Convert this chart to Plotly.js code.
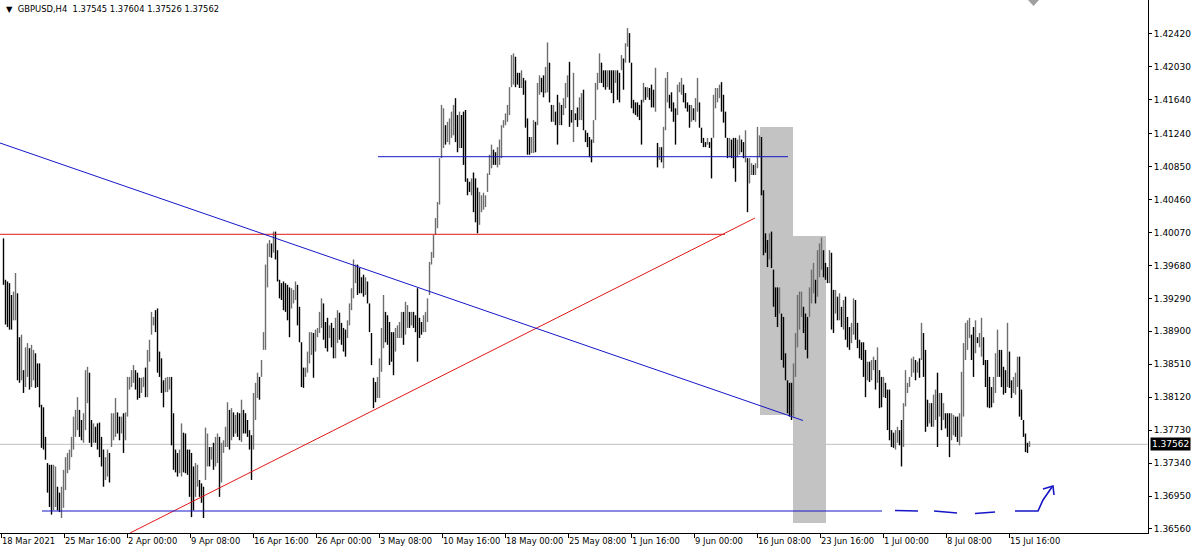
<!DOCTYPE html>
<html><head><meta charset="utf-8">
<script src="https://cdn.plot.ly/plotly-3.0.1.min.js"></script>
<style>html,body{margin:0;padding:0;background:#fff;}#chart{width:1200px;height:554px;}</style>
</head><body><div id="chart"></div>
<script>
// GBPUSD H4 bars (high / low)
const high = [
1.4000,1.3951,1.3949,1.3947,1.3933,1.3937,1.3959,1.3935,1.3883,1.3886,
1.3844,1.3871,1.3876,1.3870,1.3874,1.3868,1.3864,1.3852,1.3852,1.3803,
1.3800,1.3765,1.3734,1.3732,1.3732,1.3732,1.3730,1.3706,1.3699,1.3706,
1.3726,1.3741,1.3746,1.3750,1.3765,1.3789,1.3797,1.3812,1.3797,1.3785,
1.3793,1.3844,1.3848,1.3841,1.3785,1.3781,1.3777,1.3781,1.3782,1.3765,
1.3750,1.3741,1.3750,1.3746,1.3793,1.3793,1.3811,1.3794,1.3789,1.3789,
1.3793,1.3794,1.3836,1.3836,1.3844,1.3850,1.3844,1.3841,1.3835,1.3835,
1.3836,1.3847,1.3868,1.3880,1.3913,1.3907,1.3915,1.3917,1.3866,1.3858,
1.3832,1.3835,1.3836,1.3836,1.3836,1.3793,1.3750,1.3746,1.3750,1.3781,
1.3770,1.3769,1.3750,1.3750,1.3746,1.3730,1.3734,1.3732,1.3714,1.3710,
1.3706,1.3776,1.3769,1.3753,1.3753,1.3758,1.3765,1.3769,1.3765,1.3758,
1.3761,1.3777,1.3806,1.3797,1.3799,1.3794,1.3791,1.3794,1.3793,1.3809,
1.3797,1.3793,1.3785,1.3773,1.3767,1.3817,1.3829,1.3841,1.3836,1.3856,
1.3889,1.3969,1.3994,1.3998,1.3994,1.4008,1.4008,1.3986,1.3951,1.3947,
1.3949,1.3947,1.3945,1.3942,1.3941,1.3939,1.3949,1.3945,1.3919,1.3877,
1.3847,1.3847,1.3866,1.3889,1.3889,1.3888,1.3892,1.3894,1.3913,1.3929,
1.3923,1.3901,1.3906,1.3897,1.3900,1.3894,1.3906,1.3915,1.3912,1.3900,
1.3894,1.3892,1.3903,1.3923,1.3941,1.3975,1.3969,1.3969,1.3965,1.3954,
1.3957,1.3954,1.3949,1.3923,1.3888,1.3835,1.3830,1.3836,1.3858,1.3894,
1.3933,1.3913,1.3909,1.3901,1.3889,1.3889,1.3894,1.3897,1.3901,1.3913,
1.3913,1.3925,1.3921,1.3913,1.3913,1.3913,1.3909,1.3941,1.3906,1.3901,
1.3909,1.3913,1.3929,1.3972,1.3984,1.4004,1.4024,1.4043,1.4095,1.4158,
1.4154,1.4134,1.4138,1.4142,1.4150,1.4158,1.4166,1.4146,1.4150,1.4146,
1.4150,1.4152,1.4071,1.4067,1.4071,1.4078,1.4071,1.4060,1.4055,1.4051,
1.4054,1.4051,1.4077,1.4099,1.4111,1.4105,1.4102,1.4108,1.4117,1.4134,
1.4140,1.4148,1.4158,1.4179,1.4217,1.4219,1.4215,1.4196,1.4196,1.4199,
1.4190,1.4187,1.4142,1.4120,1.4120,1.4140,1.4138,1.4184,1.4193,1.4190,
1.4193,1.4203,1.4232,1.4208,1.4158,1.4158,1.4150,1.4170,1.4161,1.4158,
1.4166,1.4184,1.4193,1.4209,1.4152,1.4196,1.4148,1.4155,1.4167,1.4172,
1.4176,1.4128,1.4125,1.4120,1.4117,1.4140,1.4184,1.4196,1.4219,1.4208,
1.4199,1.4199,1.4199,1.4199,1.4199,1.4199,1.4199,1.4199,1.4196,1.4217,
1.4213,1.4231,1.4249,1.4243,1.4208,1.4164,1.4161,1.4161,1.4158,1.4164,
1.4184,1.4179,1.4179,1.4178,1.4182,1.4176,1.4202,1.4113,1.4108,1.4108,
1.4132,1.4190,1.4197,1.4170,1.4173,1.4161,1.4154,1.4182,1.4185,1.4190,
1.4182,1.4172,1.4161,1.4158,1.4158,1.4154,1.4166,1.4190,1.4161,1.4131,
1.4119,1.4114,1.4119,1.4114,1.4119,1.4170,1.4178,1.4178,1.4182,1.4185,
1.4170,1.4150,1.4119,1.4119,1.4117,1.4119,1.4119,1.4117,1.4122,1.4117,
1.4114,1.4128,1.4095,1.4095,1.4089,1.4087,1.4089,1.4132,1.4122,1.4120,
1.4057,1.4006,1.3998,1.4006,1.4008,1.3963,1.3942,1.3942,1.3942,1.3911,
1.3907,1.3864,1.3832,1.3829,1.3829,1.3852,1.3888,1.3933,1.3937,1.3937,
1.3919,1.3911,1.3907,1.3942,1.3963,1.3971,1.3951,1.3986,1.3994,1.4001,
1.3986,1.3971,1.3966,1.3986,1.3983,1.3939,1.3939,1.3931,1.3935,1.3919,
1.3927,1.3931,1.3907,1.3895,1.3900,1.3929,1.3927,1.3900,1.3880,1.3877,
1.3877,1.3868,1.3854,1.3854,1.3856,1.3860,1.3856,1.3871,1.3844,1.3836,
1.3836,1.3829,1.3821,1.3821,1.3773,1.3770,1.3773,1.3777,1.3773,1.3785,
1.3805,1.3844,1.3829,1.3836,1.3858,1.3860,1.3856,1.3854,1.3858,1.3900,
1.3888,1.3868,1.3809,1.3805,1.3805,1.3815,1.3821,1.3841,1.3817,1.3817,
1.3805,1.3793,1.3793,1.3793,1.3793,1.3791,1.3789,1.3789,1.3793,1.3842,
1.3876,1.3900,1.3903,1.3906,1.3886,1.3895,1.3903,1.3883,1.3888,1.3906,
1.3883,1.3856,1.3856,1.3836,1.3824,1.3836,1.3864,1.3892,1.3868,1.3868,
1.3848,1.3844,1.3900,1.3866,1.3832,1.3836,1.3841,1.3860,1.3860,1.3821,
1.3785,1.3769,1.3758,1.3760
];
const low = [
1.3945,1.3898,1.3895,1.3892,1.3892,1.3903,1.3903,1.3832,1.3829,1.3832,
1.3817,1.3824,1.3836,1.3821,1.3824,1.3832,1.3823,1.3824,1.3800,1.3752,
1.3750,1.3738,1.3699,1.3682,1.3673,1.3678,1.3682,1.3678,1.3676,1.3669,
1.3681,1.3702,1.3722,1.3726,1.3741,1.3750,1.3765,1.3773,1.3765,1.3761,
1.3758,1.3773,1.3805,1.3758,1.3753,1.3758,1.3758,1.3750,1.3741,1.3730,
1.3706,1.3714,1.3718,1.3711,1.3753,1.3761,1.3765,1.3769,1.3761,1.3769,
1.3746,1.3761,1.3789,1.3821,1.3824,1.3829,1.3821,1.3809,1.3811,1.3817,
1.3824,1.3812,1.3812,1.3854,1.3886,1.3897,1.3889,1.3841,1.3836,1.3817,
1.3800,1.3818,1.3818,1.3821,1.3755,1.3726,1.3723,1.3718,1.3722,1.3718,
1.3723,1.3722,1.3720,1.3694,1.3670,1.3678,1.3694,1.3706,1.3694,1.3687,
1.3669,1.3714,1.3730,1.3730,1.3738,1.3726,1.3730,1.3734,1.3694,1.3711,
1.3746,1.3753,1.3753,1.3750,1.3761,1.3765,1.3769,1.3765,1.3761,1.3759,
1.3769,1.3769,1.3765,1.3750,1.3714,1.3750,1.3785,1.3811,1.3809,1.3836,
1.3868,1.3868,1.3942,1.3978,1.3977,1.3983,1.3975,1.3949,1.3929,1.3927,
1.3915,1.3913,1.3903,1.3883,1.3917,1.3923,1.3927,1.3897,1.3877,1.3824,
1.3823,1.3836,1.3841,1.3852,1.3862,1.3835,1.3866,1.3883,1.3888,1.3894,
1.3880,1.3870,1.3866,1.3882,1.3871,1.3858,1.3858,1.3876,1.3880,1.3874,
1.3866,1.3860,1.3882,1.3897,1.3915,1.3929,1.3947,1.3933,1.3935,1.3935,
1.3931,1.3933,1.3923,1.3889,1.3850,1.3799,1.3806,1.3811,1.3811,1.3842,
1.3870,1.3877,1.3874,1.3850,1.3854,1.3838,1.3866,1.3882,1.3882,1.3882,
1.3874,1.3886,1.3894,1.3894,1.3897,1.3894,1.3889,1.3854,1.3882,1.3886,
1.3889,1.3889,1.3901,1.3933,1.3969,1.3977,1.4004,1.4012,1.4040,1.4095,
1.4107,1.4111,1.4114,1.4111,1.4119,1.4122,1.4114,1.4102,1.4107,1.4107,
1.4087,1.4067,1.4051,1.4055,1.4051,1.4031,1.4019,1.4006,1.4016,1.4031,
1.4034,1.4037,1.4055,1.4075,1.4083,1.4087,1.4087,1.4084,1.4087,1.4095,
1.4131,1.4134,1.4138,1.4146,1.4179,1.4182,1.4179,1.4182,1.4178,1.4178,
1.4170,1.4131,1.4099,1.4099,1.4101,1.4101,1.4102,1.4134,1.4170,1.4173,
1.4167,1.4172,1.4173,1.4161,1.4138,1.4138,1.4134,1.4111,1.4134,1.4134,
1.4146,1.4154,1.4167,1.4132,1.4137,1.4114,1.4140,1.4132,1.4140,1.4140,
1.4128,1.4114,1.4108,1.4096,1.4090,1.4113,1.4140,1.4176,1.4184,1.4184,
1.4179,1.4176,1.4179,1.4176,1.4172,1.4160,1.4184,1.4164,1.4161,1.4199,
1.4176,1.4208,1.4227,1.4208,1.4154,1.4148,1.4146,1.4144,1.4140,1.4111,
1.4161,1.4164,1.4167,1.4164,1.4155,1.4155,1.4150,1.4084,1.4093,1.4090,
1.4083,1.4128,1.4161,1.4154,1.4150,1.4138,1.4111,1.4146,1.4173,1.4170,
1.4161,1.4154,1.4150,1.4131,1.4138,1.4140,1.4138,1.4150,1.4131,1.4113,
1.4108,1.4108,1.4111,1.4107,1.4071,1.4119,1.4154,1.4161,1.4166,1.4150,
1.4137,1.4119,1.4095,1.4096,1.4095,1.4083,1.4067,1.4096,1.4099,1.4102,
1.4095,1.4090,1.4031,1.4065,1.4075,1.4075,1.4075,1.4083,1.4096,1.4051,
1.3980,1.3983,1.3966,1.3975,1.3965,1.3919,1.3907,1.3895,1.3911,1.3856,
1.3847,1.3832,1.3793,1.3789,1.3785,1.3789,1.3836,1.3871,1.3892,1.3907,
1.3888,1.3868,1.3858,1.3907,1.3923,1.3935,1.3923,1.3931,1.3954,1.3963,
1.3954,1.3951,1.3947,1.3947,1.3892,1.3888,1.3911,1.3903,1.3903,1.3895,
1.3892,1.3880,1.3871,1.3868,1.3876,1.3886,1.3880,1.3870,1.3858,1.3856,
1.3836,1.3812,1.3832,1.3830,1.3832,1.3844,1.3821,1.3829,1.3799,1.3800,
1.3812,1.3811,1.3773,1.3761,1.3753,1.3752,1.3750,1.3758,1.3755,1.3730,
1.3753,1.3801,1.3817,1.3824,1.3836,1.3841,1.3832,1.3841,1.3835,1.3856,
1.3836,1.3771,1.3777,1.3781,1.3777,1.3777,1.3785,1.3753,1.3789,1.3773,
1.3785,1.3775,1.3765,1.3741,1.3761,1.3767,1.3765,1.3759,1.3755,1.3765,
1.3789,1.3856,1.3868,1.3882,1.3856,1.3836,1.3864,1.3876,1.3871,1.3860,
1.3850,1.3824,1.3800,1.3799,1.3800,1.3805,1.3817,1.3836,1.3836,1.3824,
1.3815,1.3817,1.3824,1.3823,1.3811,1.3817,1.3815,1.3824,1.3789,1.3785,
1.3765,1.3747,1.3746,1.3753
];
// bar direction: u = close above open, d = close below open
const direction = (
"ddddduuddu duuduudddd ddddduuddu uuuuuuuudd uuuddud " +
"dddduuduuu dduduuuuud dduuduuuud dddduuuddd duuddd " +
"ddduuddduu duduuduuuu dudu dd u ddd dd uuu d uuuu u d u ddddd " +
"ddd uuu dddd uuuu d uuuu d dd u dd uu ddd d uuuuu dddd u ddddd u " +
"uuu ddddd uu uu d uu d u ddd dd uuuuuuuu uuu d uuuu dd u ddddd u " +
"ddd uuuuuuu dd uuuuuuuu u ddd u dddd u u d uu dd uu dd u dd u d uuu " +
"dd u dd uu ddd dd uuuu ddd u ddd u dd u d uu ddddddd u d u ddd u d u d u " +
"uu dddd uuu d ddd u d uu ddd d u dd uuuu dd dd u ddd uu dd u d uu d u " +
"uu dddd u ddd d u dddddd uu uuu ddd uuu d uuu ddd u dd u d u d u ddd u " +
"u dddddd u d u u d u dd u dddd d uu dd uuuuu u d u d u ddd u d uu d u d u dd " +
"d uu dd uuuuu u dd u d uu ddd dd uuu dddd u dd uuu ddddd u").replace(/\s+/g, "");

const dateLabels = ["18 Mar 2021","25 Mar 16:00","2 Apr 00:00","9 Apr 08:00","16 Apr 16:00",
  "26 Apr 00:00","3 May 08:00","10 May 16:00","18 May 00:00","25 May 08:00","1 Jun 16:00",
  "9 Jun 00:00","16 Jun 08:00","23 Jun 16:00","1 Jul 00:00","8 Jul 08:00","15 Jul 16:00"];
const priceTicks = [1.36560,1.36950,1.37340,1.37730,1.38120,1.38510,1.38900,1.39290,
  1.39680,1.40070,1.40460,1.40850,1.41240,1.41640,1.42030,1.42420];
const lastPrice = 1.37562;
const header = "GBPUSD,H4\u00a0\u00a01.37545 1.37604 1.37526 1.37562";

// ---------- layout geometry ----------
const W = 1200, H = 554, mR = 52, mB = 21;
const plotW = W - mR, plotH = H - mB;
const xRange = [-1.75, -1.75 + plotW / 2];           // 2 px per bar
const yTop = 1.42822, pxPerPrice = 1 / 0.000118384;
const yRange = [yTop - plotH / pxPerPrice, yTop];
const X = px => xRange[0] + px / 2;                  // pixel -> bar index
const Y = py => yTop - py / pxPerPrice;              // pixel -> price
const PX = px => px / plotW, PY = py => 1 - py / plotH; // pixel -> paper

// ---------- bar traces ----------
const upX = [], upY = [], dnX = [], dnY = [];
for (let i = 0; i < high.length; i++) {
  const up = direction[i] === "u";
  (up ? upX : dnX).push(i, i, null);
  (up ? upY : dnY).push(low[i], high[i], null);
}
const barLine = (x, y, c) => ({type: "scatter", mode: "lines", x, y, hoverinfo: "skip",
  line: {color: c, width: 1.4}, connectgaps: false, showlegend: false});
const traces = [barLine(upX, upY, "#6e6e6e"), barLine(dnX, dnY, "#000000")];

const tickVals = dateLabels.map((_, k) => X(63 * k + 1));

const BLUE = "#1616c8", RED = "#e01818";
const shapes = [
  {type: "rect", layer: "below", xref: "x", yref: "y", x0: X(760), x1: X(793), y0: Y(127), y1: Y(415),
    fillcolor: "#c3c3c3", line: {width: 0}},
  {type: "rect", layer: "below", xref: "x", yref: "y", x0: X(793), x1: X(826), y0: Y(236), y1: Y(523),
    fillcolor: "#c3c3c3", line: {width: 0}},
  {type: "line", layer: "below", xref: "paper", yref: "y", x0: 0, x1: 1, y0: lastPrice, y1: lastPrice,
    line: {color: "#c0c0c0", width: 1}},
  {type: "line", xref: "x", yref: "y", x0: X(0), x1: X(725), y0: Y(234.3), y1: Y(234.3), line: {color: RED, width: 1}},
  {type: "line", xref: "x", yref: "y", x0: X(130), x1: X(755), y0: Y(533), y1: Y(218), line: {color: RED, width: 1}},
  {type: "line", xref: "x", yref: "y", x0: X(0), x1: X(803), y0: Y(143), y1: Y(420.5), line: {color: BLUE, width: 1}},
  {type: "line", xref: "x", yref: "y", x0: X(378), x1: X(788), y0: Y(156.7), y1: Y(156.7), line: {color: BLUE, width: 1}},
  {type: "line", xref: "x", yref: "y", x0: X(42), x1: X(882), y0: Y(511), y1: Y(511), line: {color: BLUE, width: 1}},
  {type: "path", xref: "paper", yref: "paper", line: {color: BLUE, width: 1.6},
    path: `M${PX(895)},${PY(510.5)} L${PX(918)},${PY(511)}`},
  {type: "path", xref: "paper", yref: "paper", line: {color: BLUE, width: 1.6},
    path: `M${PX(934)},${PY(511)} L${PX(957)},${PY(513)}`},
  {type: "path", xref: "paper", yref: "paper", line: {color: BLUE, width: 1.6},
    path: `M${PX(975)},${PY(513.5)} L${PX(995)},${PY(512)}`},
  {type: "path", xref: "paper", yref: "paper", line: {color: BLUE, width: 1.6},
    path: `M${PX(1015)},${PY(511)} L${PX(1038)},${PY(511)} L${PX(1043)},${PY(500)} L${PX(1052)},${PY(487)}`},
  {type: "path", xref: "paper", yref: "paper", line: {color: BLUE, width: 1.6},
    path: `M${PX(1043)},${PY(489)} L${PX(1053)},${PY(486)} L${PX(1054)},${PY(495)}`},
  {type: "path", xref: "paper", yref: "paper", fillcolor: "#a0a0a0", line: {width: 0},
    path: `M${PX(1028)},${PY(0)} L${PX(1039)},${PY(0)} L${PX(1033.5)},${PY(6)} Z`}
];

const annotations = [
  {xref: "paper", yref: "paper", x: PX(4), y: 1, xanchor: "left", yanchor: "top", yshift: -2,
    text: "\u25BC\u00a0\u00a0" + header, showarrow: false, font: {family: "DejaVu Sans", size: 8.4, color: "#000"}},
  {xref: "paper", yref: "y", x: 1, y: lastPrice, xanchor: "left", yanchor: "middle", xshift: 2,
    text: lastPrice.toFixed(5), showarrow: false, bgcolor: "#000", borderpad: 1,
    font: {family: "DejaVu Sans", size: 9, color: "#fff"}}
];

const layout = {
  width: W, height: H, paper_bgcolor: "#fff", plot_bgcolor: "#fff",
  margin: {l: 0, r: mR, t: 0, b: mB, autoexpand: false},
  showlegend: false, hovermode: false,
  font: {family: "DejaVu Sans", size: 9, color: "#000"},
  xaxis: {range: xRange, showgrid: false, zeroline: false, showline: true, linecolor: "#000", linewidth: 1,
    ticks: "outside", ticklen: 4, tickcolor: "#000", tickvals: tickVals, ticktext: dateLabels,
    tickangle: 0, ticklabelposition: "outside right", ticklabeloverflow: "allow",
    tickfont: {family: "DejaVu Sans", size: 8.4}, fixedrange: true},
  yaxis: {range: yRange, side: "right", showgrid: false, zeroline: false, showline: true, linecolor: "#000",
    linewidth: 1, ticks: "outside", ticklen: 3, tickcolor: "#000", tickvals: priceTicks,
    ticktext: priceTicks.map(v => v.toFixed(5)), tickfont: {family: "DejaVu Sans", size: 9}, fixedrange: true},
  shapes, annotations
};
Plotly.newPlot("chart", traces, layout, {displayModeBar: false, staticPlot: true});
</script></body></html>
